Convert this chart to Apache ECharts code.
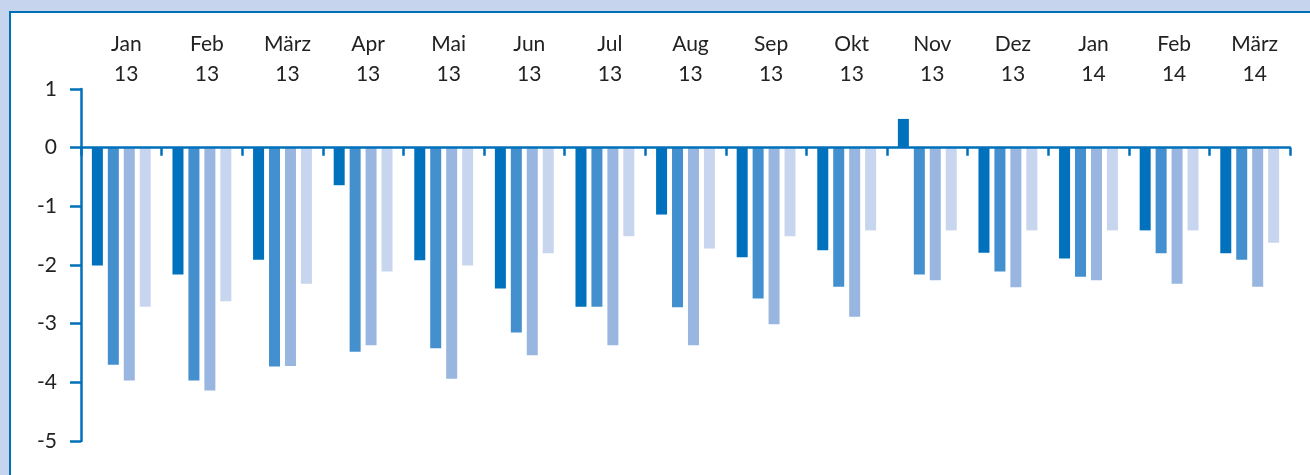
<!DOCTYPE html>
<html>
<head>
<meta charset="utf-8">
<script src="https://cdn.jsdelivr.net/npm/echarts@6/dist/echarts.min.js"></script>
<style>
html,body{margin:0;padding:0;background:#c7d4ed;}
#c{width:1310px;height:475px;}
</style>
</head>
<body>
<div id="c"></div>
<script>
const months = ['Jan','Feb','März','Apr','Mai','Jun','Jul','Aug','Sep','Okt','Nov','Dez','Jan','Feb','März'];
const years = ['13','13','13','13','13','13','13','13','13','13','13','13','14','14','14'];
const categories = months.map((m,i)=>m+'\n'+years[i]);
const series1 = [-2.01,-2.16,-1.91,-0.64,-1.92,-2.40,-2.71,-1.14,-1.87,-1.75,0.49,-1.79,-1.89,-1.41,-1.80];
const series2 = [-3.70,-3.97,-3.73,-3.48,-3.42,-3.15,-2.71,-2.72,-2.57,-2.37,-2.16,-2.11,-2.20,-1.80,-1.91];
const series3 = [-3.97,-4.14,-3.72,-3.37,-3.94,-3.54,-3.37,-3.37,-3.01,-2.88,-2.26,-2.38,-2.26,-2.32,-2.37];
const series4 = [-2.71,-2.62,-2.32,-2.11,-2.01,-1.80,-1.51,-1.72,-1.51,-1.41,-1.41,-1.41,-1.41,-1.41,-1.62];
const yTicks = {min:-5, max:1, interval:1};
const colors = ['#0071bc','#448fcd','#98b6e0','#c8d5ef'];

const chart = echarts.init(document.getElementById('c'), null, {renderer:'canvas'});
const fontFamily = 'Lato, "Noto Sans", sans-serif';
const blue = '#0070ba';
function mk(name, data, i){
  return {
    name, type:'bar', data, xAxisIndex:0, yAxisIndex:0,
    barWidth:11, barGap:'45%',
    itemStyle:{color:colors[i]},
    z:2
  };
}
chart.setOption({
  backgroundColor:'#c7d4ed',
  animation:false,
  graphic:[{
    type:'rect', z:-1, silent:true,
    shape:{x:10,y:12,width:1330,height:500},
    style:{fill:'#ffffff', stroke:blue, lineWidth:2}
  }],
  grid:{left:81,right:20,top:89,bottom:34,containLabel:false},
  xAxis:[{
    type:'category', data:categories, position:'bottom', z:10,
    axisLine:{onZero:true, lineStyle:{color:blue,width:2.5}},
    axisTick:{show:true, length:8, lineStyle:{color:blue,width:2.5}},
    axisLabel:{show:false},
    splitLine:{show:false}
  },{
    type:'category', data:categories, position:'top',
    axisLine:{show:false}, axisTick:{show:false},
    axisLabel:{show:true, color:'#222', fontSize:21, fontFamily, lineHeight:30, margin:0, align:'center', padding:[0,0,0,10]},
    splitLine:{show:false}
  }],
  yAxis:[{
    type:'value', min:yTicks.min, max:yTicks.max, interval:yTicks.interval, z:10,
    axisLine:{show:true, lineStyle:{color:blue,width:2.5}},
    axisTick:{show:true, length:11, lineStyle:{color:blue,width:2.5}},
    axisLabel:{color:'#222', fontSize:21, fontFamily, margin:24},
    splitLine:{show:false}
  }],
  series:[mk('s1',series1,0),mk('s2',series2,1),mk('s3',series3,2),mk('s4',series4,3)]
});
</script>
</body>
</html>
